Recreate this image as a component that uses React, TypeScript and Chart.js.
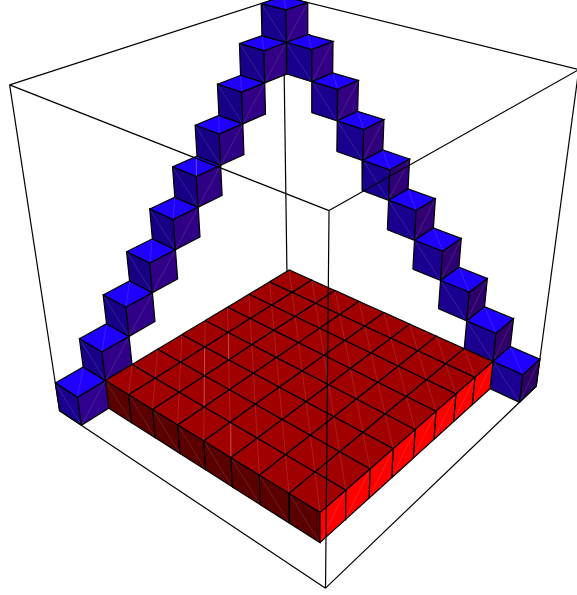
import React, { useEffect, useRef } from "react";
import { Chart, registerables } from "chart.js";

Chart.register(...registerables);

const WIDTH = 577;
const HEIGHT = 595;

// Voxel occupancy (grid 10 x 10 x 10).
const blueU = [0, 1, 2, 3, 4, 5, 6, 7, 8, 9, 9, 9, 9, 9, 9, 9, 9, 9, 9];
const blueV = [0, 0, 0, 0, 0, 0, 0, 0, 0, 0, 1, 2, 3, 4, 5, 6, 7, 8, 9];
const blueW = [0, 1, 2, 3, 4, 5, 6, 7, 8, 9, 8, 7, 6, 5, 4, 3, 2, 1, 0];
const redU = [1, 2, 3, 4, 5, 6, 7, 8];
const redV = [1, 2, 3, 4, 5, 6, 7, 8];
const redW = [0];

// Face shades: top, left side, right side.
const blueTop = "#1f00ff";
const blueLeft = ["#1b0090", "#190088", "#180086", "#170084", "#170084", "#170084", "#170086", "#170088", "#18008a", "#18008c", "#19008c", "#1a008c", "#1a008e", "#1a008e", "#1b0090", "#1b0090", "#1b0090", "#1b0092", "#1b0092"];
const blueRight = ["#30008e", "#300088", "#300088", "#300086", "#300084", "#300084", "#300084", "#300086", "#310086", "#320088", "#320084", "#320080", "#31007c", "#300078", "#300074", "#2f0070", "#2e006c", "#2e0068", "#2d0064"];
const redShades = ["#a10000", "#5a0000", "#ff0000"];

// Camera: grid position -> picture position pairs used to fit the perspective.
const viewGrid = [
  [0, 0, 0], [0, 10, 0], [10, 10, 0], [0, 0, 10], [0, 10, 10], [10, 10, 10], [10, 0, 10],
  [1, 0, 1], [1, 1, 1], [0, 1, 1], [0, 1, 0], [9, 10, 1], [9, 10, 0], [10, 10, 1],
  [9, 9, 1], [10, 9, 1], [1, 9, 1], [1, 9, 0], [9, 1, 1], [9, 1, 9], [10, 1, 9], [10, 2, 9], [9, 2, 9],
];
const viewPicture = [
  [59.3, 410], [325, 588], [537, 386.7], [8.3, 85.3], [331.5, 212], [576.7, 67.7], [283.7, -3.3],
  [83.3, 367], [106, 381.7], [78, 396], [82, 424], [522.3, 375], [520, 402.7], [539.3, 360],
  [493, 361.7], [510, 348], [320, 512.3], [319.3, 542.3], [288.3, 271], [286.7, 42.7], [309, 35], [334.3, 41.7], [312.7, 49.3],
];
const outerCornerCount = 7;
const outerCornerWeight = 5;

type P3 = number[];

function fitCamera(): number[] {
  const n = 11;
  const A: number[][] = Array.from({ length: n }, () => new Array(n + 1).fill(0));
  const addRow = (row: number[], rhs: number, weight: number) => {
    for (let i = 0; i < n; i++) {
      for (let j = 0; j < n; j++) A[i][j] += weight * row[i] * row[j];
      A[i][n] += weight * row[i] * rhs;
    }
  };
  viewGrid.forEach(([u, v, w], k) => {
    const [x, y] = viewPicture[k];
    const s = u / 10, t = v / 10, r = w / 10;
    const weight = k < outerCornerCount ? outerCornerWeight : 1;
    addRow([1, s, t, r, 0, 0, 0, 0, -x * s, -x * t, -x * r], x, weight);
    addRow([0, 0, 0, 0, 1, s, t, r, -y * s, -y * t, -y * r], y, weight);
  });
  for (let c = 0; c < n; c++) {
    let piv = c;
    for (let r = c + 1; r < n; r++) if (Math.abs(A[r][c]) > Math.abs(A[piv][c])) piv = r;
    [A[c], A[piv]] = [A[piv], A[c]];
    for (let r = 0; r < n; r++) {
      if (r === c) continue;
      const f = A[r][c] / A[c][c];
      for (let k = c; k <= n; k++) A[r][k] -= f * A[c][k];
    }
  }
  return A.map((row, i) => row[n] / row[i]);
}

function buildDatasets() {
  const m = fitCamera();
  const project = ([u, v, w]: P3) => {
    const s = u / 10, t = v / 10, r = w / 10;
    const d = 1 + m[8] * s + m[9] * t + m[10] * r;
    return {
      x: (m[0] + m[1] * s + m[2] * t + m[3] * r) / d,
      y: (m[4] + m[5] * s + m[6] * t + m[7] * r) / d,
    };
  };
  const line = (pts: P3[], width = 1.2) => ({
    type: "scatter" as const,
    data: pts.map(project),
    showLine: true,
    fill: false,
    borderColor: "#000000",
    borderWidth: width,
    pointRadius: 0,
    clip: false as const,
  });

  const cells: { u: number; v: number; w: number; shades: string[] }[] = [];
  blueU.forEach((u, i) => cells.push({ u, v: blueV[i], w: blueW[i], shades: [blueTop, blueLeft[i], blueRight[i]] }));
  redU.forEach((u) => redV.forEach((v) => redW.forEach((w) => cells.push({ u, v, w, shades: redShades }))));
  const filled = new Set(cells.map((c) => `${c.u},${c.v},${c.w}`));
  cells.sort((a, b) => a.v + a.w - a.u - (b.v + b.w - b.u));

  const back: P3[][] = [
    [[10, 0, 0], [10, 0, 10]],
    [[0, 0, 0], [10, 0, 0]],
    [[10, 0, 0], [10, 10, 0]],
    [[0, 0, 10], [10, 0, 10]],
    [[10, 0, 10], [10, 10, 10]],
    [[0, 0, 0], [0, 0, 10]],
    [[10, 10, 0], [10, 10, 10]],
  ];
  const front: P3[][] = [
    [[0, 0, 0], [0, 10, 0]],
    [[0, 10, 0], [10, 10, 0]],
    [[0, 10, 0], [0, 10, 10]],
    [[0, 0, 10], [0, 10, 10]],
    [[0, 10, 10], [10, 10, 10]],
  ];

  const farToNear: any[] = back.map((p) => line(p));
  cells.forEach(({ u, v, w, shades }) => {
    const faces: { pts: P3[]; seam: P3[]; colour: string; open: boolean }[] = [
      {
        pts: [[u, v, w + 1], [u + 1, v, w + 1], [u + 1, v + 1, w + 1], [u, v + 1, w + 1]],
        seam: [[u + 1, v, w + 1], [u, v + 1, w + 1]],
        colour: shades[0],
        open: !filled.has(`${u},${v},${w + 1}`),
      },
      {
        pts: [[u, v, w], [u, v + 1, w], [u, v + 1, w + 1], [u, v, w + 1]],
        seam: [[u, v, w + 1], [u, v + 1, w]],
        colour: shades[1],
        open: !filled.has(`${u - 1},${v},${w}`),
      },
      {
        pts: [[u, v + 1, w], [u + 1, v + 1, w], [u + 1, v + 1, w + 1], [u, v + 1, w + 1]],
        seam: [[u, v + 1, w], [u + 1, v + 1, w + 1]],
        colour: shades[2],
        open: !filled.has(`${u},${v + 1},${w}`),
      },
    ];
    faces.filter((f) => f.open).forEach((f) => {
      farToNear.push({
        ...line([...f.pts, f.pts[0]], 0),
        borderColor: "rgba(0,0,0,0)",
        fill: "shape",
        backgroundColor: f.colour,
      });
      farToNear.push({
        ...line(f.seam, 0.6),
        borderColor: "rgba(255,255,255,0.2)",
      });
      farToNear.push(line([...f.pts, f.pts[0]], 1.2));
    });
  });
  front.forEach((p) => farToNear.push(line(p)));
  // Chart.js paints the first dataset last, so nearest goes first.
  return farToNear.reverse();
}

export default function App() {
  const ref = useRef<HTMLCanvasElement>(null);
  useEffect(() => {
    document.body.style.margin = "0";
    const chart = new Chart(ref.current!, {
      type: "scatter",
      data: { datasets: buildDatasets() },
      options: {
        animation: false,
        responsive: false,
        events: [],
        layout: { padding: 0 },
        plugins: { legend: { display: false }, tooltip: { enabled: false }, title: { display: false } },
        scales: {
          x: { type: "linear", display: false, min: 0, max: WIDTH },
          y: { type: "linear", display: false, min: 0, max: HEIGHT, reverse: true },
        },
      },
    });
    return () => chart.destroy();
  }, []);
  return <canvas ref={ref} width={WIDTH} height={HEIGHT} style={{ display: "block" }} />;
}
